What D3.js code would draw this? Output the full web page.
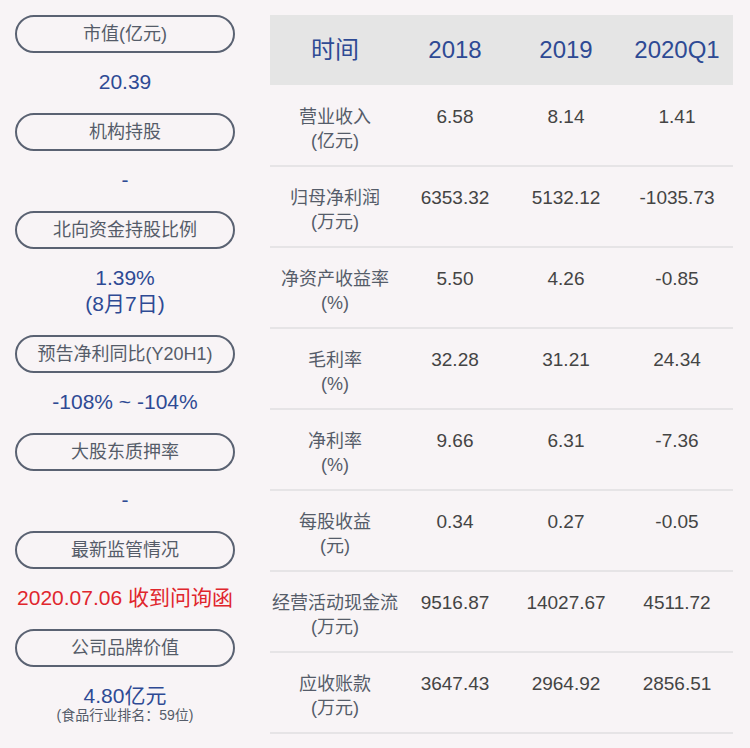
<!DOCTYPE html>
<html><head><meta charset="utf-8">
<script src="https://cdn.jsdelivr.net/npm/d3@7"></script>
<style>body{margin:0;background:#f8f4f6;}</style>
</head><body>
<svg id="chart" width="750" height="748"></svg>
<script>
// left panel
var pillLabels = ["市值(亿元)", "机构持股", "北向资金持股比例", "预告净利同比(Y20H1)", "大股东质押率", "最新监管情况", "公司品牌价值"]
var pillValues = [["20.39"], ["-"], ["1.39%", "(8月7日)"], ["-108% ~ -104%"], ["-"], ["2020.07.06 收到问询函"], ["4.80亿元"]]
var pillTops = [16, 114, 212, 336, 434, 532, 630]
var brandNote = "(食品行业排名：59位)"

// table
var periods = ["2018", "2019", "2020Q1"]
var metrics = [["营业收入", "(亿元)"], ["归母净利润", "(万元)"], ["净资产收益率", "(%)"], ["毛利率", "(%)"],
  ["净利率", "(%)"], ["每股收益", "(元)"], ["经营活动现金流", "(万元)"], ["应收账款", "(万元)"]]
var v2018 = ["6.58", "6353.32", "5.50", "32.28", "9.66", "0.34", "9516.87", "3647.43"]
var v2019 = ["8.14", "5132.12", "4.26", "31.21", "6.31", "0.27", "14027.67", "2964.92"]
var vQ1 = ["1.41", "-1035.73", "-0.85", "24.34", "-7.36", "-0.05", "4511.72", "2856.51"]

var svg = d3.select('#chart')
var font = "'Liberation Sans', 'Noto Sans CJK SC', sans-serif"
var blue = "#2e4a94", grey = "#555c69"

pillLabels.forEach(function(lab, i) {
  var y = pillTops[i]
  svg.append('rect').attr('x', 16).attr('y', y).attr('width', 218).attr('height', 36).attr('rx', 18)
    .attr('fill', 'none').attr('stroke', '#5a6272').attr('stroke-width', 2)
  svg.append('text').attr('x', 125).attr('y', y + 24).attr('text-anchor', 'middle')
    .attr('font-family', font).attr('font-size', 18).attr('fill', grey).text(lab)
  pillValues[i].forEach(function(v, k) {
    svg.append('text').attr('x', 125).attr('y', y + 73 + k * 26).attr('text-anchor', 'middle')
      .attr('font-family', font).attr('font-size', 21)
      .attr('fill', i == 5 ? '#e0262d' : blue).text(v)
  })
})
svg.append('text').attr('x', 125).attr('y', 720).attr('text-anchor', 'middle')
  .attr('font-family', font).attr('font-size', 14).attr('fill', grey).text(brandNote)

var x = d3.scaleOrdinal().domain(["label"].concat(periods)).range([335, 455, 566, 677])
var y = d3.scaleBand().domain(d3.range(metrics.length)).range([85, 733])

svg.append('rect').attr('x', 270).attr('y', 15).attr('width', 463).attr('height', 70).attr('fill', '#e5e5e5')
svg.append('text').attr('x', x("label")).attr('y', 58).attr('text-anchor', 'middle')
  .attr('font-family', font).attr('font-size', 24).attr('fill', blue).text("时间")
periods.forEach(function(p) {
  svg.append('text').attr('x', x(p)).attr('y', 58).attr('text-anchor', 'middle')
    .attr('font-family', font).attr('font-size', 24).attr('fill', blue).text(p)
})

var cols = [v2018, v2019, vQ1]
metrics.forEach(function(m, i) {
  var top = y(i)
  svg.append('line').attr('x1', 270).attr('x2', 733).attr('y1', top + y.bandwidth()).attr('y2', top + y.bandwidth())
    .attr('stroke', '#e1dfe1').attr('stroke-width', 1.5)
  m.forEach(function(t, k) {
    svg.append('text').attr('x', x("label")).attr('y', top + 38 + k * 24).attr('text-anchor', 'middle')
      .attr('font-family', font).attr('font-size', 18).attr('fill', grey).text(t)
  })
  periods.forEach(function(p, j) {
    svg.append('text').attr('x', x(p)).attr('y', top + 38).attr('text-anchor', 'middle')
      .attr('font-family', font).attr('font-size', 19).attr('fill', '#444').text(cols[j][i])
  })
})
</script>
</body></html>
